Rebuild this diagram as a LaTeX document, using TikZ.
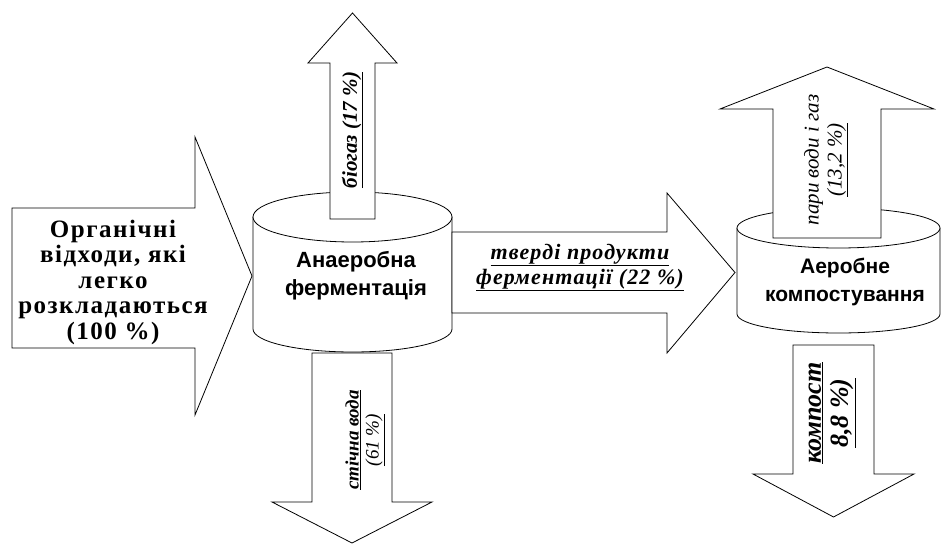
\documentclass[tikz,border=0pt]{standalone}
\usepackage{fontspec}
\setmainfont{Liberation Serif}
\newfontfamily\arialfont{Liberation Sans}

\begin{document}
\begin{tikzpicture}[x=1pt,y=1pt,line width=0.8pt,
    blk/.style={draw,fill=white},
    srctxt/.style={align=center,font=\bfseries\fontsize{25}{25.5}\selectfont\addfontfeature{LetterSpace=6}},
    tanktxt/.style={align=center,font=\arialfont\bfseries\fontsize{21}{28}\selectfont},
    flowtxt/.style={align=center,rotate=90,font=\itshape\fontsize{21}{25}\selectfont}]
  \useasboundingbox (0,0) rectangle (942,544);

  \draw[blk] (12,336) -- (195,336) -- (195,407) -- (252,268) -- (195,129) -- (195,196) -- (12,196) -- cycle;

  \draw[blk] (253,327) -- (253,215) arc[start angle=180,end angle=360,x radius=99.5,y radius=23] -- (452,327);
  \draw[blk] (352.5,327) ellipse[x radius=99.5,y radius=25];
  \draw[blk] (330,325) -- (330,481) -- (308,481) -- (352.5,531) -- (397,481) -- (375,481) -- (375,325) -- cycle;
  \draw[blk] (312,191) -- (312,42) -- (272,42) -- (352,1) -- (432,42) -- (392,42) -- (392,191) -- cycle;

  \draw[blk] (452,312) -- (667,312) -- (667,351) -- (735,271.5) -- (667,191) -- (667,231) -- (452,231) -- cycle;

  \draw[blk] (737,316) -- (737,230) arc[start angle=180,end angle=360,x radius=101.5,y radius=19] -- (940,316);
  \draw[blk] (838.5,316) ellipse[x radius=101.5,y radius=20];
  \draw[blk] (773,306) -- (773,435) -- (720,435) -- (827,477) -- (934,435) -- (881,435) -- (881,306) -- cycle;
  \draw[blk] (793,199) -- (793,70) -- (753,70) -- (833.5,27) -- (914,70) -- (874,70) -- (874,199) -- cycle;

  \node[srctxt] (src) at (113,262) {Органічні\\відходи, які\\легко\\розкладаються\\(100 \%)};
  \node[tanktxt,font=\arialfont\bfseries\fontsize{22}{28}\selectfont] (anaer) at (356,268) {Анаеробна\\ферментація};
  \node[tanktxt] (aer) at (845,262) {Аеробне\\компостування};
  \node[flowtxt] (biogas) at (352.5,414) {\bfseries\underline{біогаз (17 \%)}};
  \node[flowtxt,font=\itshape\fontsize{19}{20}\selectfont] (water) at (365,104)
    {{\bfseries\underline{стічна вода}}\\\underline{(61 \%)}};
  \node[align=center,font=\bfseries\itshape\fontsize{22}{25}\selectfont\addfontfeature{LetterSpace=5}] (solid) at (580,276.5)
    {\underline{тверді продукти}\\\underline{ферментації (22 \%)}};
  \node[flowtxt,font=\itshape\fontsize{21}{23}\selectfont] (vapour) at (826,384)
    {пари води і газ\\\underline{(13,2 \%)}};
  \node[flowtxt,font=\itshape\bfseries\fontsize{26}{27}\selectfont] (compost) at (832,131)
    {\underline{компост}\\\underline{8,8 \%)}};
\end{tikzpicture}
\end{document}
